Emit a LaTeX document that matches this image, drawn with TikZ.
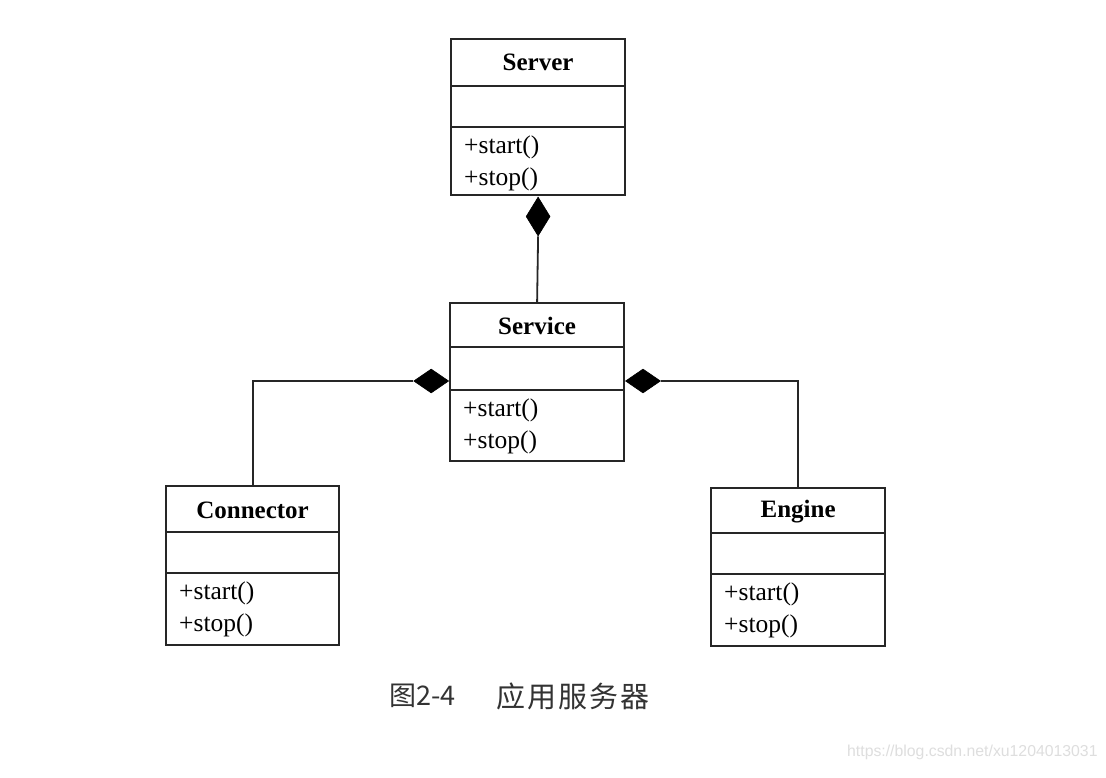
\documentclass[tikz,border=0pt]{standalone}
\usepackage{fontspec}
\setmainfont{Liberation Serif}
\newfontfamily\cjk{Noto Sans CJK SC}
\newfontfamily\wmfont{Liberation Sans}
\usetikzlibrary{shapes.geometric,calc}
\tikzset{
  classbox/.style={draw=black!85, line width=2.2pt, rectangle, inner sep=0pt, anchor=north west},
  sepline/.style={draw=black!85, line width=2.2pt},
  titletext/.style={font=\fontsize{25}{30}\selectfont\bfseries, inner sep=0pt},
  methodtext/.style={font=\fontsize{25.5}{28}\selectfont, inner sep=0pt, anchor=west},
  vdia/.style={diamond, fill=black, draw=black, line width=0.6pt, inner sep=0pt, minimum width=24pt, minimum height=39pt},
  hdia/.style={diamond, fill=black, draw=black, line width=0.6pt, inner sep=0pt, minimum width=35pt, minimum height=24pt},
  link/.style={draw=black!85, line width=1.8pt}
}
\newcommand{\umlclass}[9]{%
  % #1 name, #2 x, #3 y, #4 width, #5 height, #6 title sep offset, #7 attr sep offset, #8 title, #9 title offset
  \node[classbox, minimum width=#4pt, minimum height=#5pt] (#1) at (#2,#3) {};
  \draw[sepline] ($(#1.north west)+(0,#6)$) -- ($(#1.north east)+(0,#6)$);
  \draw[sepline] ($(#1.north west)+(0,#7)$) -- ($(#1.north east)+(0,#7)$);
  \node[titletext] (#1-title) at ($(#1.north)+(0,#9)$) {#8};
  \node[methodtext] (#1-start) at ($(#1.north west)+(14,#7+20)$) {+start()};
  \node[methodtext] (#1-stop) at ($(#1.north west)+(14,#7+52)$) {+stop()};
}
\begin{document}
\begin{tikzpicture}[x=1pt,y=-1pt]
\useasboundingbox[fill=white] (0,0) rectangle (1106,778);
\umlclass{server}{450}{38}{174}{156}{48}{89}{Server}{24}
\umlclass{service}{449}{302}{174}{158}{45}{88}{Service}{24}
\umlclass{connector}{165}{485}{173}{159}{47}{88}{Connector}{25}
\umlclass{engine}{710}{487}{174}{158}{46}{87}{Engine}{25}
% composition diamonds
\node[vdia, anchor=north] (d1) at ($(server.south)+(0,0.5)$) {};
\node[hdia, anchor=east] (d2) at ($(service.north west)+(0,79)$) {};
\node[hdia, anchor=west] (d3) at ($(service.north east)+(0,79)$) {};
\draw[link] (d1.south) -- (service.north);
\draw[link] (d2.west) -| (connector.north);
\draw[link] (d3.east) -| (engine.north);
% caption
\node[font=\cjk\fontsize{27}{30}\selectfont, inner sep=0pt, anchor=west, text=black!80] (cap1) at (389,696) {图2-4};
\node[font=\cjk\fontsize{29}{32}\selectfont, inner sep=0pt, anchor=west, text=black!80] (cap2) at (496,696) {应\kern2pt 用\kern2pt 服\kern2pt 务\kern2pt 器};
% watermark
\node[font=\wmfont\fontsize{15.8}{20}\selectfont, inner sep=0pt, anchor=west, text=black!13] (wm) at (847,752) {https://blog.csdn.net/xu1204013031};
\end{tikzpicture}
\end{document}
